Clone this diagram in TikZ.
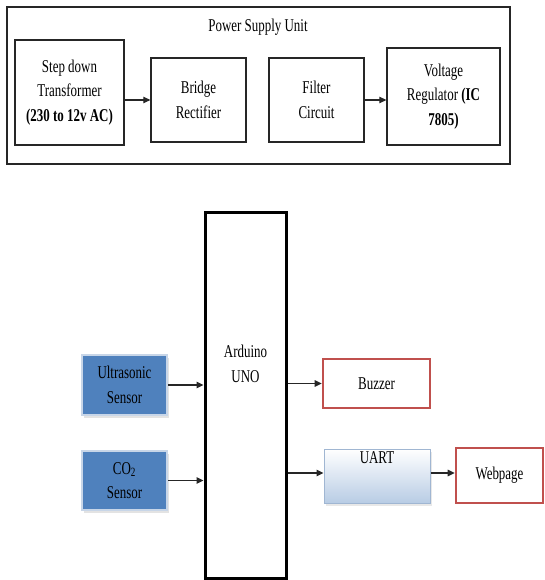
\documentclass[tikz,border=0pt]{standalone}
\usepackage{fontspec}
\setmainfont{Liberation Serif}[FakeStretch=0.72]
\usetikzlibrary{arrows.meta,shadows}
\definecolor{sensorblue}{RGB}{79,129,189}
\definecolor{sensorrim}{RGB}{200,214,232}
\definecolor{outred}{RGB}{192,80,77}
\definecolor{uartblue}{RGB}{184,204,228}
\definecolor{uartrim}{RGB}{160,182,210}
\newcommand\blocktext{\fontsize{18}{24.5}\selectfont}

\begin{document}
\begin{tikzpicture}[x=1pt,y=-1pt,
  psblock/.style={draw=black!85,line width=1.3pt,inner sep=0pt,align=center,font=\blocktext},
  sensorblock/.style={fill=sensorblue,draw=sensorrim,line width=2pt,inner sep=0pt,
    align=center,font=\blocktext,drop shadow={shadow xshift=2pt,shadow yshift=-3pt,fill=black!22}},
  outblock/.style={draw=outred,line width=2.6pt,fill=white,inner sep=0pt,align=center,font=\blocktext},
  uartblock/.style={top color=white,bottom color=uartblue,draw=uartrim,line width=1pt,inner sep=0pt,
    font=\blocktext,drop shadow={shadow xshift=2pt,shadow yshift=-3pt,fill=black!18}},
  arr/.style={-{Triangle[length=7pt,width=6.5pt]},line width=1.2pt,draw=black!85}]
  \useasboundingbox (0,0) rectangle (545,580);

  % power supply unit
  \node[psblock,minimum width=503pt,minimum height=157pt] (psu) at (258.5,85.5) {};
  \node[font=\blocktext] (psutitle) at (258,27) {Power Supply Unit};
  \node[psblock,minimum width=109pt,minimum height=105pt] (step) at (69.5,92.5)
    {Step down\\Transformer\\\textbf{(230 to 12v AC)}};
  \node[psblock,minimum width=95pt,minimum height=84pt] (bridge) at (198.5,100)
    {Bridge\\Rectifier};
  \node[psblock,minimum width=95pt,minimum height=84pt] (filter) at (316.5,100)
    {Filter\\Circuit};
  \node[psblock,minimum width=113pt,minimum height=97pt] (volt) at (443.5,96.5)
    {Voltage\\Regulator \textbf{(IC}\\\textbf{7805)}};
  \draw[arr] (step.east |- bridge.west) -- (bridge.west);
  \draw[arr] (filter.east) -- (filter.east -| volt.west);

  % controller
  \node[draw=black,line width=3pt,minimum width=81pt,minimum height=366pt] (arduino) at (245.5,395) {};
  \node[align=center,font=\blocktext] (ardutxt) at (245.5,364) {Arduino\\UNO};

  \node[sensorblock,minimum width=85pt,minimum height=60pt] (ultra) at (124.5,385)
    {Ultrasonic\\Sensor};
  \node[sensorblock,minimum width=85pt,minimum height=59pt] (co2) at (124.5,480.5)
    {CO\textsubscript{2}\\Sensor};
  \draw[arr] (ultra.east) -- (ultra.east -| arduino.west);
  \draw[arr] (co2.east) -- (co2.east -| arduino.west);

  \node[outblock,minimum width=107pt,minimum height=49pt] (buzzer) at (376.5,383.5) {Buzzer};
  \node[uartblock,minimum width=106pt,minimum height=54pt,
    label={[anchor=north,inner sep=0pt,yshift=-3pt,font=\blocktext]north:UART}] (uart) at (377,476) {};
  \node[outblock,minimum width=87pt,minimum height=55pt] (web) at (499.5,475.5) {Webpage};
  \draw[arr] (buzzer.west -| arduino.east) -- (buzzer.west);
  \draw[arr] ([yshift=3pt]uart.west -| arduino.east) -- ([yshift=3pt]uart.west);
  \draw[arr] ([yshift=3pt]uart.east) -- ([yshift=3pt]uart.east -| web.west);
\end{tikzpicture}
\end{document}
